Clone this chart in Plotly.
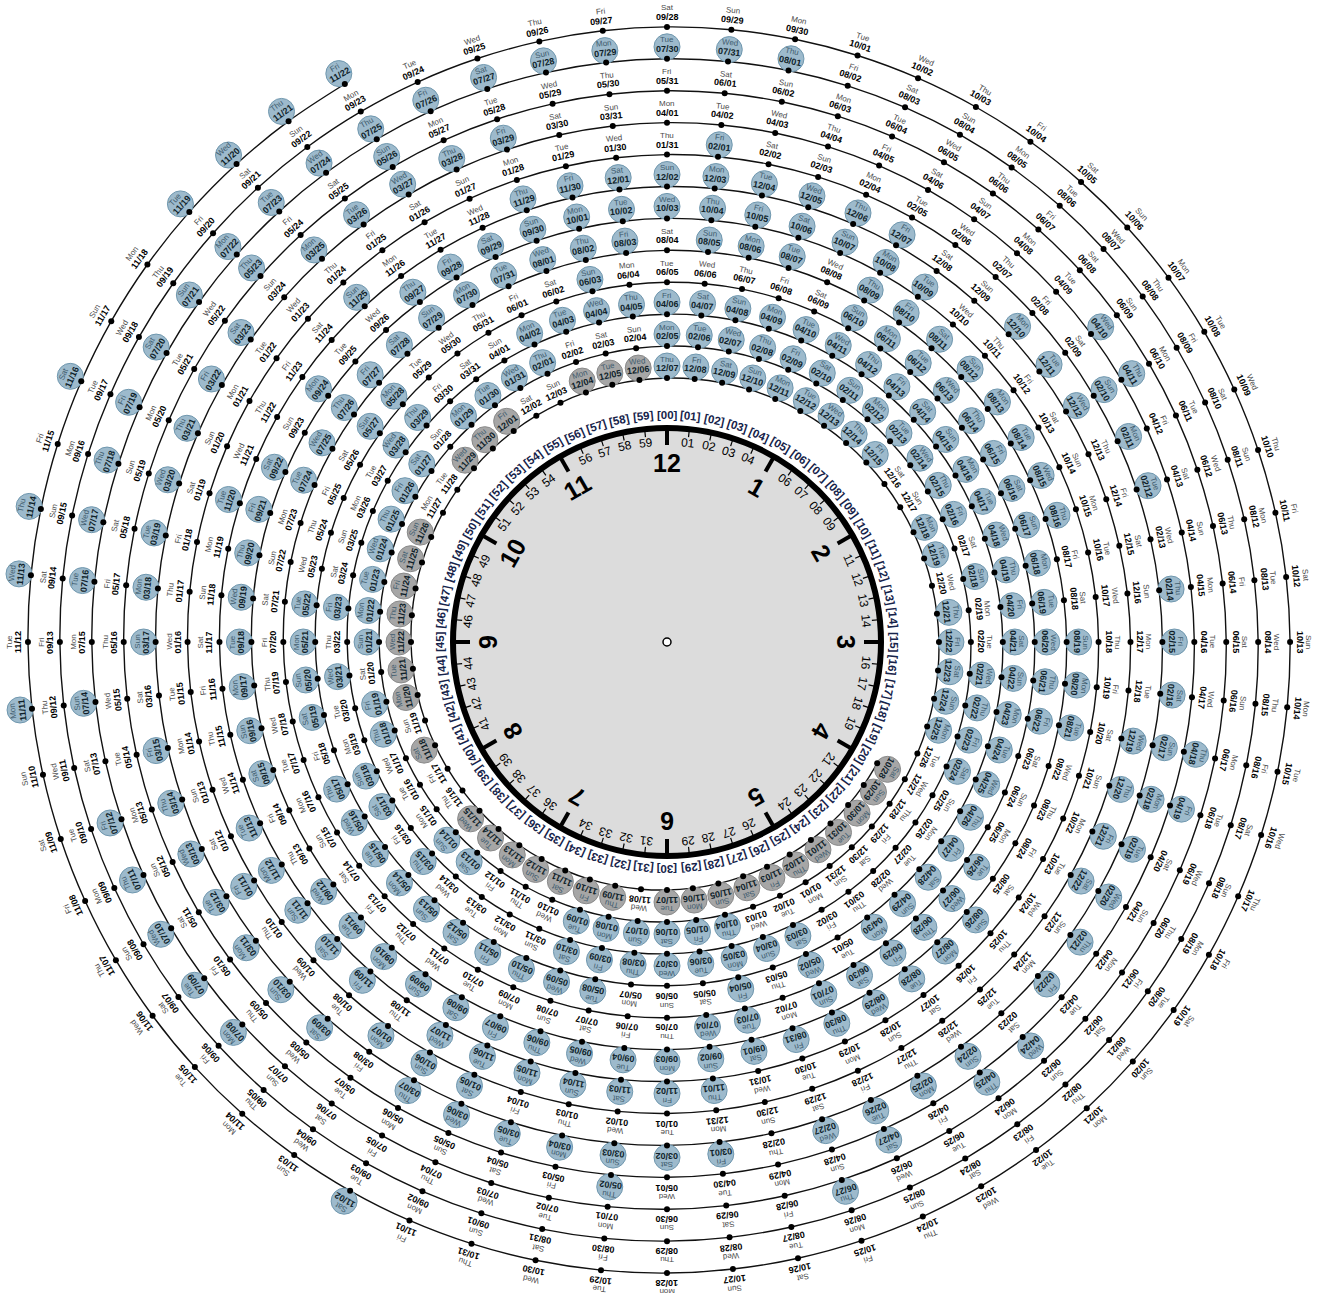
import math
import pandas as pd
import plotly.graph_objects as go

# ---------- data ----------
first_day = "2017-10-28"
last_day = "2019-11-22"
first_blue_day = "2017-12-07"      # circled days before this one are grey

no_circle_2017 = [("11-08", "11-08"), ("11-16", "11-17"), ("11-19", "11-19"), ("11-27", "11-28"),
                  ("12-02", "12-03"), ("12-16", "12-17"), ("12-20", "12-20"), ("12-26", "12-31")]
no_circle_2018 = [("01-01", "01-03"), ("01-10", "01-12"), ("01-15", "01-17"), ("01-20", "01-20"),
                  ("01-28", "01-28"), ("02-02", "02-04"), ("02-17", "02-17"), ("02-19", "02-20"),
                  ("02-25", "03-02"), ("03-11", "03-14"), ("03-16", "03-16"), ("03-19", "03-20"),
                  ("03-22", "03-22"), ("03-24", "03-27"), ("03-30", "04-01"), ("05-01", "05-01"),
                  ("05-03", "05-03"), ("05-05", "05-07"), ("05-18", "05-18"), ("05-23", "05-26"),
                  ("05-29", "06-02"), ("06-04", "06-09"), ("06-23", "06-25"), ("07-02", "07-02"),
                  ("07-05", "07-23"), ("08-04", "08-04"), ("08-08", "08-08"), ("08-17", "08-18"),
                  ("08-22", "08-25"), ("09-13", "09-14"), ("09-23", "09-23"), ("09-25", "09-26"),
                  ("10-10", "10-31"), ("11-08", "11-08"), ("11-14", "11-19"), ("11-21", "11-24"),
                  ("11-26", "11-28"), ("12-08", "12-09"), ("12-13", "12-18"), ("12-23", "12-31")]
no_circle_2019 = [("01-01", "01-04"), ("01-08", "01-10"), ("01-12", "01-31"), ("02-02", "02-09"),
                  ("02-13", "02-13"), ("02-23", "02-23"), ("02-28", "02-28"), ("03-08", "03-08"),
                  ("03-16", "03-16"), ("03-24", "03-24"), ("03-30", "04-09"), ("04-12", "04-17"),
                  ("04-20", "04-23"), ("04-26", "04-26"), ("04-28", "05-01"), ("05-03", "05-22"),
                  ("05-24", "05-25"), ("05-27", "06-26"), ("06-28", "07-07"), ("07-13", "07-13"),
                  ("07-15", "07-15"), ("08-02", "11-01"), ("11-03", "11-10"), ("11-12", "11-12"),
                  ("11-15", "11-15"), ("11-17", "11-18")]

hour_labels = ["12", "1", "2", "3", "4", "5", "6", "7", "8", "9", "10", "11"]
minutes = list(range(60))

# ---------- scales ----------
CX, CY = 667, 642
W, H = 1322, 1293
FIRST_MINUTE = 20          # 10/28 sits on the [20] mark
R0, R_PER_DAY = 242.7, 0.532
DEG_PER_DAY = 6


def polar(r, deg):
    a = math.radians(deg)
    return r * math.sin(a), r * math.cos(a)


days = pd.date_range(first_day, last_day, freq="D")
plain = set()
for yr, spans in ((2017, no_circle_2017), (2018, no_circle_2018), (2019, no_circle_2019)):
    for a, b in spans:
        plain.update(pd.date_range(f"{yr}-{a}", f"{yr}-{b}", freq="D"))
blue_from = pd.Timestamp(first_blue_day)

ann = []


def label(x, y, text, size, color, angle, bold=False):
    ann.append(dict(x=x, y=y, xref="x", yref="y", text=f"<b>{text}</b>" if bold else text,
                    showarrow=False, textangle=angle, xanchor="center", yanchor="middle",
                    font=dict(family="Liberation Sans", size=size, color=color)))


sx, sy, dx, dy = [], [], [], []
blue_x, blue_y, grey_x, grey_y = [], [], [], []
for i, day in enumerate(days):
    deg = (FIRST_MINUTE + i) * DEG_PER_DAY
    r = R0 + R_PER_DAY * i
    px, py = polar(r, deg)
    sx.append(px)
    sy.append(py)
    circled = day not in plain
    if circled:
        cx, cy = polar(r + 12, deg)
        if day < blue_from:
            grey_x.append(cx)
            grey_y.append(cy)
        else:
            blue_x.append(cx)
            blue_y.append(cy)
    angle = deg % 360
    if angle > 180:
        angle -= 360
    tx, ty = polar(r + 10, deg)
    label(tx, ty, day.strftime("%m/%d"), 9, "#0f1f2a" if circled else "#000000", angle, True)
    wx, wy = polar(r + 19, deg)
    label(wx, wy, day.strftime("%a"), 8, "#3f5c6e" if circled else "#4a4a4a", angle)

# ---------- clock ----------
hour_tx, hour_ty, min_tx, min_ty = [], [], [], []
for m in minutes:
    deg = m * DEG_PER_DAY
    angle = deg if deg <= 180 else deg - 360
    x, y = polar(227, deg)
    label(x, y, f"[{m:02d}]", 11.5, "#16234a", angle, True)
    if m % 5 == 0:
        a = polar(213, deg)
        b = polar(197, deg)
        hour_tx += [a[0], b[0], None]
        hour_ty += [a[1], b[1], None]
        x, y = polar(179, deg)
        label(x, y, hour_labels[m // 5], 25, "#000000", angle, True)
    else:
        a = polar(213, deg)
        b = polar(206, deg)
        min_tx += [a[0], b[0], None]
        min_ty += [a[1], b[1], None]
        x, y = polar(200, deg)
        label(x, y, f"{m:02d}", 12, "#000000", angle)

fig = go.Figure()
fig.add_trace(go.Scatter(x=min_tx, y=min_ty, mode="lines", line=dict(color="#000", width=1.2)))
fig.add_trace(go.Scatter(x=hour_tx, y=hour_ty, mode="lines", line=dict(color="#000", width=4)))
fig.add_trace(go.Scatter(x=[0], y=[0], mode="markers",
                         marker=dict(size=8, color="white", line=dict(color="#000", width=1.5))))
fig.add_trace(go.Scatter(x=sx, y=sy, mode="lines", line=dict(color="#111", width=1.4, shape="spline", smoothing=1)))
fig.add_trace(go.Scatter(x=grey_x, y=grey_y, mode="markers",
                         marker=dict(size=26, color="#a6a6a6", line=dict(color="#8a8a8a", width=1))))
fig.add_trace(go.Scatter(x=blue_x, y=blue_y, mode="markers",
                         marker=dict(size=26, color="#9dbacc", line=dict(color="#6f97ae", width=1))))
fig.add_trace(go.Scatter(x=sx, y=sy, mode="markers", marker=dict(size=6, color="#000")))

fig.update_layout(
    width=W, height=H, margin=dict(l=0, r=0, t=0, b=0), showlegend=False,
    plot_bgcolor="white", paper_bgcolor="white", hovermode=False,
    xaxis=dict(range=[-CX, W - CX], visible=False, fixedrange=True),
    yaxis=dict(range=[CY - H, CY], visible=False, fixedrange=True),
    annotations=ann,
    shapes=[dict(type="circle", xref="x", yref="y", x0=-214, x1=214, y0=-214, y1=214,
                 fillcolor="#dcdcdc", line=dict(color="#000", width=6), layer="below")],
)
fig.write_html("out.html", config={"displayModeBar": False},
               post_script="document.body.style.margin='0';document.body.style.overflow='hidden';")
